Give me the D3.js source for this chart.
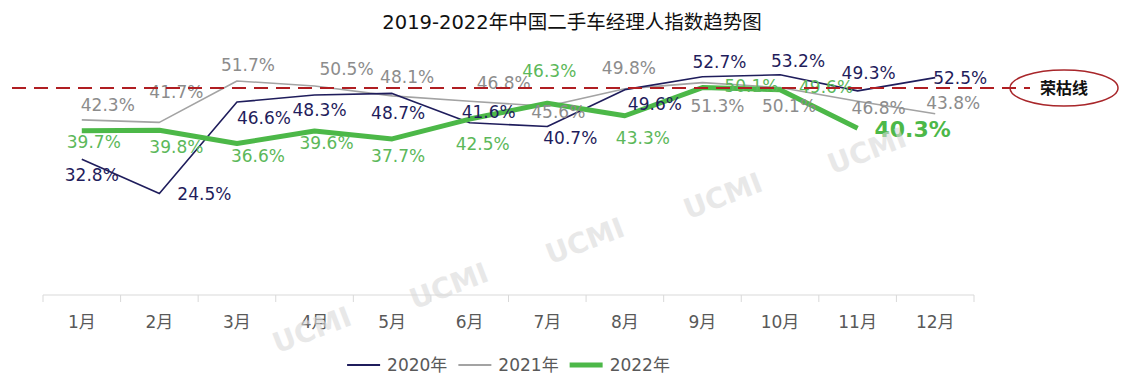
<!DOCTYPE html>
<html>
<head>
<meta charset="utf-8">
<script src="https://cdn.jsdelivr.net/npm/d3@7"></script>
<style>
  body { margin: 0; background: #fff; }
  svg { font-family: "DejaVu Sans", "Noto Sans CJK SC", sans-serif; }
</style>
</head>
<body>
<div id="chart"></div>
<script>
// ---- data ----
var chartTitle = "2019-2022年中国二手车经理人指数趋势图";
var months = ["1月", "2月", "3月", "4月", "5月", "6月", "7月", "8月", "9月", "10月", "11月", "12月"];
var values2020 = [32.8, 24.5, 46.6, 48.3, 48.7, 41.6, 40.7, 49.6, 52.7, 53.2, 49.3, 52.5];
var values2021 = [42.3, 41.7, 51.7, 50.5, 48.1, 46.8, 45.6, 49.8, 51.3, 50.1, 46.8, 43.8];
var values2022 = [39.7, 39.8, 36.6, 39.6, 37.7, 42.5, 46.3, 43.3, 50.1, 49.6, 40.3];
var seriesNames = ["2020年", "2021年", "2022年"];
var refValue = 50;
var refName = "荣枯线";
var watermarkText = "UCMI";

// label nudges (px) from each point, like the hand-placed labels in the original
var labelShift2020 = [[10,16],[45,0],[27,16],[5,15],[6,20],[19,-11],[23,11],[30,14],[17,-15],[18,-14],[11,-18],[25,0]];
var labelShift2021 = [[26,-15],[17,-30],[11,-16],[32,-17],[15,-19],[34,-18],[11,6],[4,-21],[15,23],[9,18],[21,7],[18,-11]];
var labelShift2022 = [[12,11],[17,17],[21,13],[12,12],[6,17],[13,25],[2,-32],[18,22],[49,-2],[46,-3],[55,1]];

var width = 1132, height = 386;
var plotLeft = 43, plotRight = 974;

var svg = d3.select("#chart").append("svg")
    .attr("width", width)
    .attr("height", height);

var x = d3.scaleBand()
    .domain(months)
    .range([plotLeft, plotRight]);

var y = d3.scaleLinear()
    .domain([0, 60])
    .range([295, 46.6]);

function cx(i) { return x(months[i]) + x.bandwidth() / 2; }

// title
svg.append("text")
    .attr("x", 572)
    .attr("y", 22)
    .attr("text-anchor", "middle")
    .attr("dominant-baseline", "central")
    .attr("font-size", 19.5)
    .attr("fill", "#111")
    .text(chartTitle);

// x axis: line + ticks between categories
var axis = svg.append("g").attr("class", "x axis");
axis.append("line")
    .attr("x1", plotLeft).attr("x2", plotRight)
    .attr("y1", y(0)).attr("y2", y(0))
    .attr("stroke", "#d9d9d9");
axis.selectAll(".tick-mark")
    .data(d3.range(months.length + 1))
    .enter().append("line")
    .attr("x1", function(i) { return plotLeft + i * x.step(); })
    .attr("x2", function(i) { return plotLeft + i * x.step(); })
    .attr("y1", y(0)).attr("y2", y(0) + 7)
    .attr("stroke", "#d9d9d9");
axis.selectAll(".month")
    .data(months)
    .enter().append("text")
    .attr("x", function(d) { return x(d) + x.bandwidth() / 2; })
    .attr("y", 322)
    .attr("text-anchor", "middle")
    .attr("dominant-baseline", "central")
    .attr("font-size", 17)
    .attr("fill", "#595959")
    .text(function(d) { return d; });

var series = [
  { name: seriesNames[0], values: values2020, shift: labelShift2020, line: "#1f1d5c", label: "#1f1d5c", width: 1.6 },
  { name: seriesNames[1], values: values2021, shift: labelShift2021, line: "#a3a3a3", label: "#8c8c8c", width: 1.6 },
  { name: seriesNames[2], values: values2022, shift: labelShift2022, line: "#4cb848", label: "#5cb85a", width: 5 }
];

var line = d3.line()
    .x(function(d, i) { return cx(i); })
    .y(function(d) { return y(d); });

// draw gray first, then navy, then green on top
[1, 0, 2].forEach(function(k) {
  var s = series[k];
  svg.append("path")
      .datum(s.values)
      .attr("fill", "none")
      .attr("stroke", s.line)
      .attr("stroke-width", s.width)
      .attr("stroke-linejoin", "round")
      .attr("d", line);
});

// value labels
series.forEach(function(s, k) {
  var isLast = function(i) { return k === 2 && i === s.values.length - 1; };
  svg.append("g")
      .selectAll("text")
      .data(s.values)
      .enter().append("text")
      .attr("x", function(d, i) { return cx(i) + s.shift[i][0]; })
      .attr("y", function(d, i) { return y(d) + s.shift[i][1]; })
      .attr("text-anchor", "middle")
      .attr("dominant-baseline", "central")
      .attr("font-size", function(d, i) { return isLast(i) ? 22 : 17; })
      .attr("font-weight", function(d, i) { return isLast(i) ? "bold" : "normal"; })
      .attr("fill", function(d, i) { return isLast(i) ? s.line : s.label; })
      .text(function(d) { return d.toFixed(1) + "%"; });
});

// reference line (荣枯线)
svg.append("line")
    .attr("x1", 12).attr("x2", 1030)
    .attr("y1", y(refValue)).attr("y2", y(refValue))
    .attr("stroke", "#b01e22")
    .attr("stroke-width", 2)
    .attr("stroke-dasharray", "14,8");

svg.append("ellipse")
    .attr("cx", 1064).attr("cy", y(refValue))
    .attr("rx", 54).attr("ry", 18)
    .attr("fill", "none")
    .attr("stroke", "#a8262a")
    .attr("stroke-width", 1.5);

svg.append("text")
    .attr("x", 1064).attr("y", y(refValue))
    .attr("text-anchor", "middle")
    .attr("dominant-baseline", "central")
    .attr("font-size", 16)
    .attr("font-weight", "bold")
    .attr("fill", "#111")
    .text(refName);

// watermarks
var marks = [[312, 330], [449, 286], [585, 241], [723, 196], [867, 151]];
svg.append("g")
    .selectAll("text")
    .data(marks)
    .enter().append("text")
    .attr("transform", function(d) { return "translate(" + d[0] + "," + d[1] + ") rotate(-21)"; })
    .attr("text-anchor", "middle")
    .attr("dominant-baseline", "central")
    .attr("font-size", 28)
    .attr("font-weight", "bold")
    .attr("fill", "#d9d9d9")
    .attr("opacity", 0.6)
    .text(watermarkText);

// legend, centred under the plot
var legend = svg.append("g").attr("font-size", 17).attr("fill", "#595959");
var items = legend.selectAll("g")
    .data(series)
    .enter().append("g");
items.append("line")
    .attr("x1", 0).attr("x2", 33)
    .attr("y1", 0).attr("y2", 0)
    .attr("stroke", function(d) { return d.line; })
    .attr("stroke-width", function(d) { return d.width === 5 ? 5 : 2; });
items.append("text")
    .attr("x", 40)
    .attr("dominant-baseline", "central")
    .text(function(d) { return d.name; });

var offset = 0, positions = [];
items.each(function() {
  positions.push(offset);
  offset += this.getBBox().width + 11;
});
var total = offset - 11;
var startX = (plotLeft + plotRight) / 2 - total / 2;
items.attr("transform", function(d, i) { return "translate(" + (startX + positions[i]) + ",365)"; });
</script>
</body>
</html>
